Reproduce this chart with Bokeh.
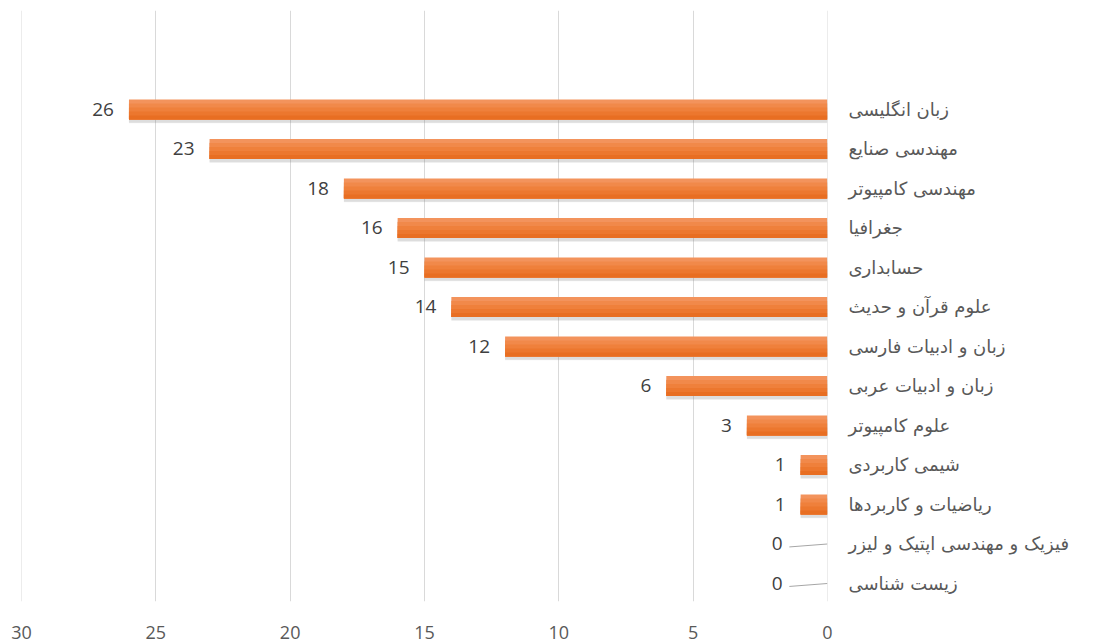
from bokeh.plotting import figure
from bokeh.models import Range1d, FixedTicker, LinearAxis, ColumnDataSource, Span
from bokeh.embed import file_html
from bokeh.resources import INLINE
from bokeh.core.properties import value

# ---- data (top to bottom) ----
categories = [
    "زبان انگلیسی",
    "مهندسی صنایع",
    "مهندسی کامپیوتر",
    "جغرافیا",
    "حسابداری",
    "علوم قرآن و حدیث",
    "زبان و ادبیات فارسی",
    "زبان و ادبیات عربی",
    "علوم کامپیوتر",
    "شیمی کاربردی",
    "ریاضیات و کاربردها",
    "فیزیک و مهندسی اپتیک و لیزر",
    "زیست شناسی",
]
counts = [26, 23, 18, 16, 15, 14, 12, 6, 3, 1, 1, 0, 0]
x_ticks = [0, 5, 10, 15, 20, 25, 30]

n = len(categories)
ypos = list(range(n))

p = figure(
    frame_width=806, frame_height=591,
    min_border_left=21, min_border_right=270, min_border_top=10, min_border_bottom=42,
    x_range=Range1d(30, 0), y_range=Range1d(n - 1 + 0.456, -2.506),
    output_backend="svg", toolbar_location=None, y_axis_location=None,
    background_fill_color="white", border_fill_color="white",
)
p.outline_line_color = None

# grid
p.xgrid.ticker = FixedTicker(ticks=x_ticks)
p.xgrid.grid_line_color = "#D9D9D9"
p.xgrid.grid_line_width = 1
p.ygrid.visible = False
for loc in (x_ticks[0], x_ticks[-1]):
    p.add_layout(Span(location=loc, dimension="height", line_color="#D9D9D9", line_width=1))

# bottom axis
p.xaxis.ticker = FixedTicker(ticks=x_ticks)
p.xaxis.axis_line_color = None
p.xaxis.major_tick_line_color = None
p.xaxis.minor_tick_line_color = None
p.xaxis.major_label_standoff = 18
p.xaxis.major_label_text_font = "Open Sans"
p.xaxis.major_label_text_font_size = "18px"
p.xaxis.major_label_text_color = "#595959"

# right category axis
ax = LinearAxis(
    ticker=FixedTicker(ticks=ypos),
    major_label_overrides={i: c for i, c in zip(ypos, categories)},
    axis_line_color=None, major_tick_line_color=None, minor_tick_line_color=None,
    major_label_standoff=15,
    major_label_text_font="DejaVu Sans",
    major_label_text_font_size="18px",
    major_label_text_color="#595959",
)
p.add_layout(ax, "right")

# bars: soft shadow + vertical gradient (cumulative layers, no seams)
bar_h = 0.506
nz_y = [y for y, c in zip(ypos, counts) if c > 0]
nz_c = [c for c in counts if c > 0]

p.hbar(y=[y + 0.07 for y in nz_y], left=0, right=nz_c, height=bar_h + 0.05,
       fill_color="#808080", fill_alpha=0.10, line_color=None)
p.hbar(y=[y + 0.08 for y in nz_y], left=0, right=nz_c, height=bar_h,
       fill_color="#808080", fill_alpha=0.18, line_color=None)

band_colors = ["#F3935C", "#F1894A", "#EF803B", "#EC772E", "#E86E22"]
nb = len(band_colors)
bh = bar_h / nb
for k, col in enumerate(band_colors):
    top = [y - bar_h / 2 + k * bh for y in nz_y]
    bottom = [y + bar_h / 2 for y in nz_y]
    p.quad(left=0, right=nz_c, top=top, bottom=bottom, fill_color=col, line_color=None)

# leader lines for zero values
z_y = [y for y, c in zip(ypos, counts) if c == 0]
z_c = [c for c in counts if c == 0]
p.segment(x0=z_c, y0=z_y, x1=[c + 1.42 for c in z_c], y1=[y + 0.075 for y in z_y],
          line_color="#A6A6A6", line_width=1)

# value labels
src = ColumnDataSource(dict(
    x=counts, y=ypos, t=[str(c) for c in counts],
    off=[-15 if c > 0 else -45 for c in counts],
))
p.text(x="x", y="y", text="t", x_offset="off", source=src,
       text_align="right", text_baseline="middle",
       text_font=value("Open Sans"), text_font_size="19px", text_color="#404040")

open("out.html", "w").write(file_html(p, INLINE))
